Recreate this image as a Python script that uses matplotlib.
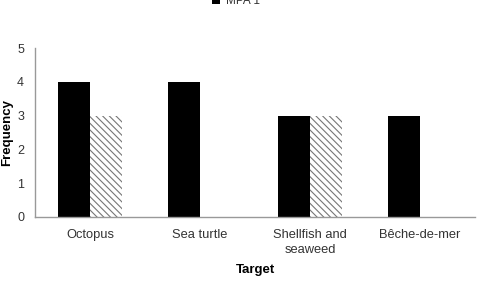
import numpy as np
import matplotlib
matplotlib.use('Agg')
import matplotlib.pyplot as plt

# Data
categories = ['Octopus', 'Sea turtle', 'Shellfish and\nseaweed', 'Bêche-de-mer']
series_1 = [4, 4, 3, 3]
series_2 = [3, 0, 3, 0]
labels = ['MPA 1', 'MPA 2']

plt.rcParams['font.family'] = ['Liberation Sans', 'DejaVu Sans']
plt.rcParams['hatch.linewidth'] = 0.8

fig = plt.figure(figsize=(5.02, 2.81), dpi=100)
ax = fig.add_axes([0.070, 0.228, 0.876, 0.601])

x = np.arange(len(categories))
w = 0.29
b1 = ax.bar(x - w / 2, series_1, w, color='black', label=labels[0])
b2 = ax.bar(x + w / 2, series_2, w, color='white', edgecolor='#777777',
            hatch='\\\\\\\\\\', linewidth=0, label=labels[1])

ax.set_xlim(-0.5, len(categories) - 0.5)
ax.set_ylim(0, 5)
ax.set_yticks(range(6))
ax.set_xticks(x)
ax.set_xticklabels(categories, fontsize=9.3, color='#333333', linespacing=1.25)
ax.tick_params(axis='y', labelsize=9, colors='#333333', length=0, pad=8)
ax.tick_params(axis='x', length=0, pad=9)

for s in ['top', 'right']:
    ax.spines[s].set_visible(False)
for s in ['left', 'bottom']:
    ax.spines[s].set_color('#999999')
    ax.spines[s].set_linewidth(1)

ax.set_ylabel('Frequency', fontsize=9.5, fontweight='bold')
ax.yaxis.set_label_coords(-0.05, 0.5)
ax.set_xlabel('Target', fontsize=9.5, fontweight='bold', labelpad=6)

# legend sits mostly above the figure, only its bottom edge shows
fig.legend([b2, b1], [labels[1], labels[0]], loc='lower left',
           bbox_to_anchor=(0.422, 0.975), frameon=False, borderpad=0,
           borderaxespad=0, fontsize=8.5, handlelength=0.7, handleheight=0.7,
           handletextpad=0.5, labelcolor='#333333')

fig.savefig('out.png', dpi=100)
